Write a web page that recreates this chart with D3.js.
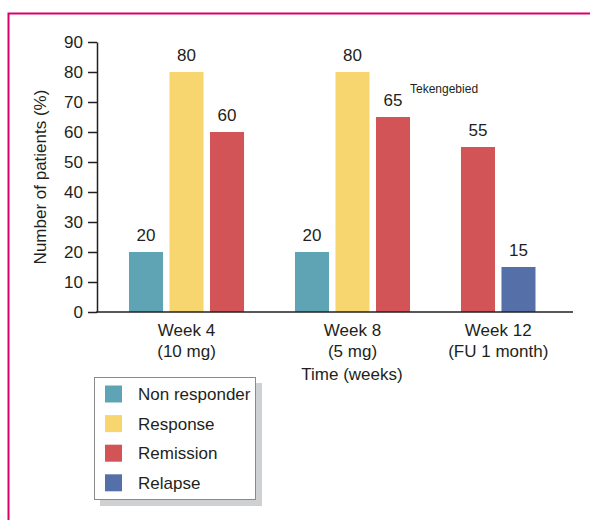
<!DOCTYPE html>
<html><head><meta charset="utf-8">
<script src="https://cdn.jsdelivr.net/npm/d3@7"></script>
<style>body{margin:0;background:#fff}svg{display:block;font-family:"Liberation Sans",Arial,sans-serif}</style>
</head><body>
<svg id="c" width="590" height="520"></svg>
<script>
const groups = ["Week 4", "Week 8", "Week 12"];
const groupSub = ["(10 mg)", "(5 mg)", "(FU 1 month)"];
const seriesNames = ["Non responder", "Response", "Remission", "Relapse"];
const seriesColors = ["#5fa4b5", "#f7d56f", "#d25457", "#5570a8"];
const nonResponder = [20, 20, null];
const response = [80, 80, null];
const remission = [60, 65, 55];
const relapse = [null, null, 15];
const yTicks = [0, 10, 20, 30, 40, 50, 60, 70, 80, 90];
const xTitle = "Time (weeks)";
const yTitle = "Number of patients (%)";
const note = "Tekengebied";

const allSeries = [nonResponder, response, remission, relapse];
const svg = d3.select("#c");
const txt = "#231f20";
const fs = 17;

// frame
svg.append("path").attr("d", "M8.5,520 V13.5 H590").attr("fill", "none")
  .attr("stroke", "#d9006c").attr("stroke-width", 2);

const y = d3.scaleLinear().domain([0, 90]).range([312, 42]);
const x0 = d3.scaleBand().domain(groups).range([129, 576]).paddingInner(0.307).paddingOuter(0);
const x1 = d3.scaleBand().domain([0, 1, 2]).range([0, x0.bandwidth()]).paddingInner(0.16).paddingOuter(0);

// build bars: present series packed left within group
const bars = [];
const centers = [];
groups.forEach((g, gi) => {
  let slot = 0;
  const xs = [];
  allSeries.forEach((s, si) => {
    if (s[gi] != null) {
      const bx = x0(g) + x1(slot);
      bars.push({g, si, v: s[gi], x: bx});
      xs.push(bx);
      slot++;
    }
  });
  centers.push((d3.min(xs) + d3.max(xs) + x1.bandwidth()) / 2);
});

svg.append("g").selectAll("rect").data(bars).join("rect")
  .attr("x", d => d.x).attr("y", d => y(d.v))
  .attr("width", x1.bandwidth()).attr("height", d => y(0) - y(d.v))
  .attr("fill", d => seriesColors[d.si]);

svg.append("g").selectAll("text").data(bars).join("text")
  .attr("x", d => d.x + x1.bandwidth() / 2).attr("y", d => y(d.v) - 11)
  .attr("text-anchor", "middle").attr("font-size", fs).attr("fill", txt)
  .text(d => d.v);

// y axis
const ya = svg.append("g").attr("transform", "translate(97,0)")
  .call(d3.axisLeft(y).tickValues(yTicks).tickSize(9).tickSizeOuter(0).tickPadding(5));
ya.selectAll("text").attr("font-size", fs).attr("fill", txt).style("font-family", "Liberation Sans, Arial, sans-serif");
ya.selectAll("line").attr("stroke", "#231f20").attr("stroke-width", 1.5);
ya.select(".domain").attr("stroke", "#231f20").attr("stroke-width", 1.5);

// x axis line
svg.append("line").attr("x1", 96.25).attr("x2", 573).attr("y1", y(0)).attr("y2", y(0))
  .attr("stroke", "#231f20").attr("stroke-width", 1.5);

// x labels
const xl = svg.append("g").selectAll("text").data(groups).join("text")
  .attr("text-anchor", "middle").attr("font-size", fs).attr("fill", txt);
xl.append("tspan").attr("x", (d, i) => centers[i]).attr("y", 336).text(d => d);
xl.append("tspan").attr("x", (d, i) => centers[i]).attr("y", 357).text((d, i) => groupSub[i]);

svg.append("text").attr("x", 352).attr("y", 380).attr("text-anchor", "middle")
  .attr("font-size", fs).attr("fill", txt).text(xTitle);

svg.append("text").attr("transform", "translate(46,177) rotate(-90)")
  .attr("text-anchor", "middle").attr("font-size", fs).attr("fill", txt).text(yTitle);

svg.append("text").attr("x", 410).attr("y", 93).attr("font-size", 12).attr("fill", txt).text(note);

// legend
const lg = svg.append("g");
lg.append("rect").attr("x", 100).attr("y", 383).attr("width", 162).attr("height", 123).attr("fill", "#cfd0d2");
lg.append("rect").attr("x", 94.5).attr("y", 377.5).attr("width", 161).attr("height", 122)
  .attr("fill", "#fff").attr("stroke", "#8a8a8a").attr("stroke-width", 1);
const li = lg.selectAll("g.it").data(seriesNames).join("g").attr("class", "it")
  .attr("transform", (d, i) => `translate(105,${394 + i * 29.6})`);
li.append("rect").attr("x", 0).attr("y", -8.5).attr("width", 17).attr("height", 17)
  .attr("fill", (d, i) => seriesColors[i]);
li.append("text").attr("x", 33).attr("y", 6).attr("font-size", fs).attr("fill", txt).text(d => d);
</script>
</body></html>
